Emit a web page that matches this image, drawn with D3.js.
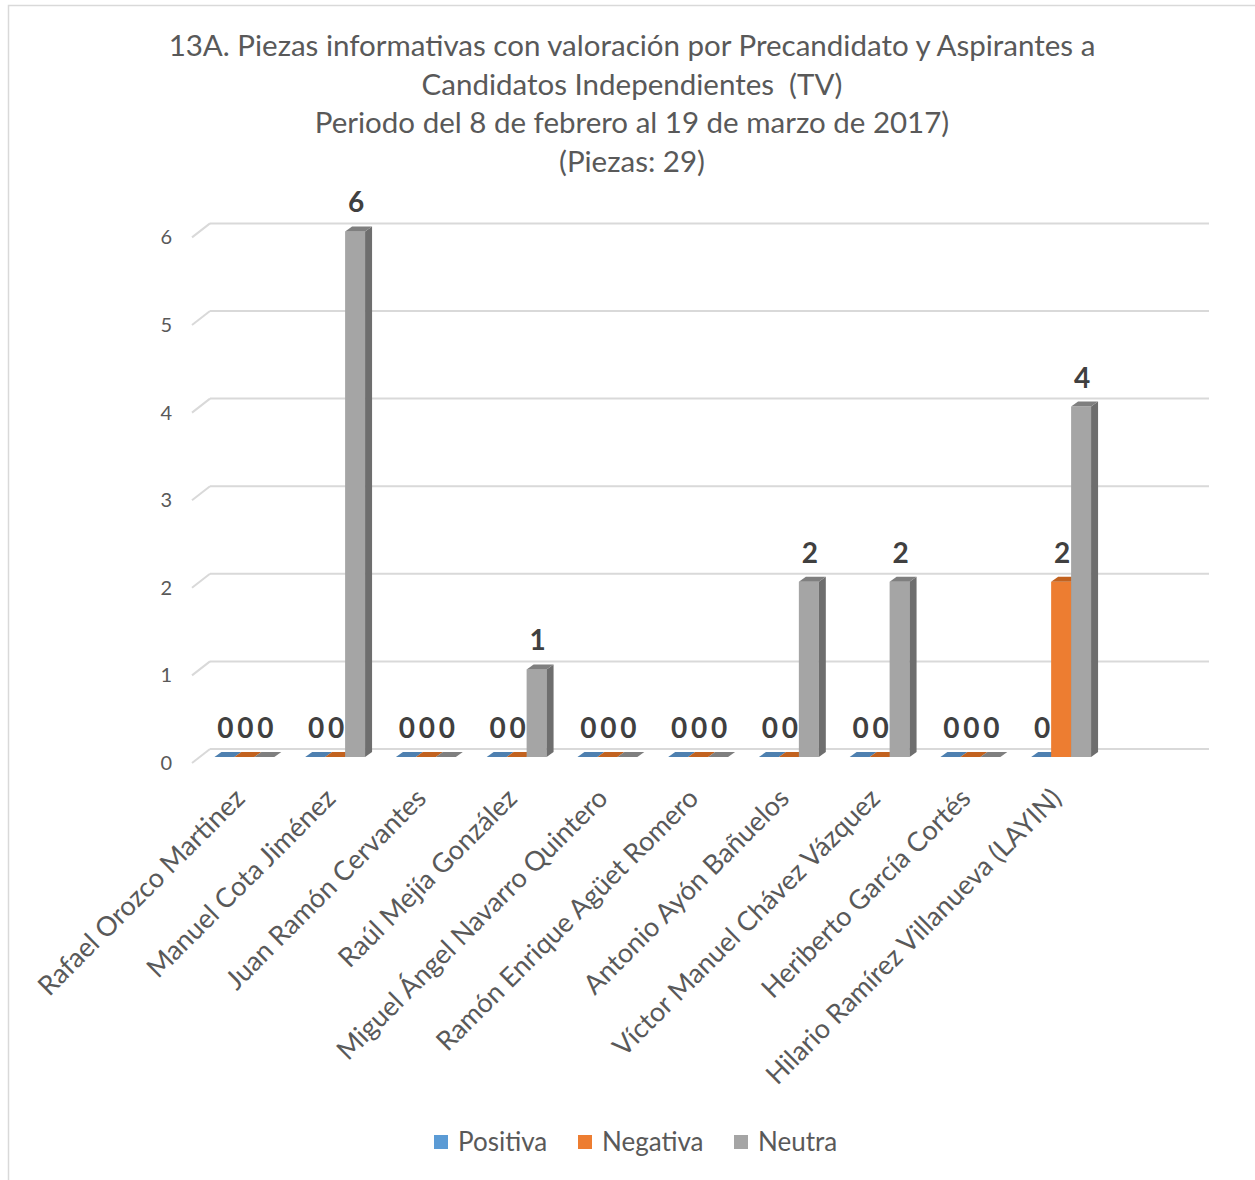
<!DOCTYPE html>
<html>
<head>
<meta charset="utf-8">
<script src="https://cdnjs.cloudflare.com/ajax/libs/d3/7.8.5/d3.min.js"></script>
<style>
  body { margin: 0; background: #fff; }
  text { font-family: Lato, "Open Sans", sans-serif; white-space: pre; }
</style>
</head>
<body>
<svg width="1255" height="1180"></svg>
<script>
var categories = ["Rafael Orozco Martinez", "Manuel Cota Jiménez", "Juan Ramón Cervantes",
    "Raúl Mejía González", "Miguel Ángel Navarro Quintero", "Ramón Enrique Agüet Romero",
    "Antonio Ayón Bañuelos", "Víctor Manuel Chávez Vázquez", "Heriberto García Cortés",
    "Hilario Ramírez Villanueva (LAYIN)"];
var positiva = [0, 0, 0, 0, 0, 0, 0, 0, 0, 0];
var negativa = [0, 0, 0, 0, 0, 0, 0, 0, 0, 2];
var neutra = [0, 6, 0, 1, 0, 0, 2, 2, 0, 4];
var seriesNames = ["Positiva", "Negativa", "Neutra"];
var yTicks = [0, 1, 2, 3, 4, 5, 6];
var titleLines = ["13A. Piezas informativas con valoración por Precandidato y Aspirantes a",
    "Candidatos Independientes  (TV)",
    "Periodo del 8 de febrero al 19 de marzo de 2017)",
    "(Piezas: 29)"];

var svg = d3.select("svg");
var series = [positiva, negativa, neutra];
var frontCol = ["#5B9BD5", "#ED7D31", "#A5A5A5"],
    sideCol = ["#41719C", "#AE5A21", "#6E6E6E"],
    topCol = ["#4E80B0", "#C2621F", "#7F7F7F"];

// depth offset of the bar box
var dx = 7, dy = -5;

// chart border
svg.append("rect")
    .attr("x", 8.5).attr("y", 5.5)
    .attr("width", 1300).attr("height", 1300)
    .attr("fill", "none").attr("stroke", "#d9d9d9").attr("stroke-width", 1.5);

// title
svg.append("g").selectAll("text")
    .data(titleLines)
    .enter().append("text")
    .attr("x", 632)
    .attr("y", function(d, i) { return 56 + i * 38.7; })
    .attr("text-anchor", "middle")
    .attr("fill", "#595959")
    .style("font-size", "29.5px")
    .text(function(d) { return d; });

var y = d3.scaleLinear().domain([0, 6]).range([757, 757 - 6 * 87.6]);

var x = d3.scaleBand()
    .domain(categories)
    .range([199, 1106.5])
    .paddingInner(0.34)
    .paddingOuter(0.17);

var xs = d3.scaleBand()
    .domain(seriesNames)
    .range([0, x.bandwidth()]);

// gridlines on the back wall, with the short slant on the side wall
var grid = svg.append("g");
yTicks.forEach(function(t) {
    grid.append("line")
        .attr("x1", 210).attr("x2", 1209)
        .attr("y1", y(t) - 8).attr("y2", y(t) - 8)
        .attr("stroke", "#d9d9d9").attr("stroke-width", 2);
    grid.append("line")
        .attr("x1", 192).attr("x2", 210)
        .attr("y1", y(t) + 6).attr("y2", y(t) - 8)
        .attr("stroke", "#d9d9d9").attr("stroke-width", 2);
    grid.append("text")
        .attr("x", 172).attr("y", y(t) + 6)
        .attr("dy", "0.35em")
        .attr("text-anchor", "end")
        .attr("fill", "#595959")
        .style("font-size", "20px")
        .text(t);
});

// bars
var bars = svg.append("g");
var labels = svg.append("g");
categories.forEach(function(c, i) {
    series.forEach(function(s, j) {
        var v = s[i];
        var x0 = x(c) + xs(seriesNames[j]),
            w = xs.bandwidth(),
            y0 = y(0),
            y1 = y(v);
        if (v > 0) {
            bars.append("rect")
                .attr("x", x0).attr("y", y1)
                .attr("width", w).attr("height", y0 - y1)
                .attr("fill", frontCol[j]);
            bars.append("path")
                .attr("d", "M" + (x0 + w) + "," + y1 + "L" + (x0 + w + dx) + "," + (y1 + dy) +
                    "L" + (x0 + w + dx) + "," + (y0 + dy) + "L" + (x0 + w) + "," + y0 + "Z")
                .attr("fill", sideCol[j]);
        }
        bars.append("path")
            .attr("d", "M" + x0 + "," + y1 + "L" + (x0 + dx) + "," + (y1 + dy) +
                "L" + (x0 + w + dx) + "," + (y1 + dy) + "L" + (x0 + w) + "," + y1 + "Z")
            .attr("fill", topCol[j]);
        labels.append("text")
            .attr("x", x0 + w / 2 + 1)
            .attr("y", y1 - 19)
            .attr("text-anchor", "middle")
            .attr("fill", "#404040")
            .style("font-size", "28px")
            .style("font-weight", "bold")
            .text(v);
    });
});

// category labels, rotated
svg.append("g").selectAll("text")
    .data(categories)
    .enter().append("text")
    .attr("transform", function(d) {
        return "translate(" + (x(d) + x.bandwidth() / 2 + 2) + ",800) rotate(-45)";
    })
    .attr("text-anchor", "end")
    .attr("fill", "#595959")
    .style("font-size", "27px")
    .text(function(d) { return d; });

// legend
var legendX = [434, 578, 734];
var legend = svg.append("g");
seriesNames.forEach(function(n, j) {
    legend.append("rect")
        .attr("x", legendX[j]).attr("y", 1135)
        .attr("width", 14).attr("height", 14)
        .attr("fill", frontCol[j]);
    legend.append("text")
        .attr("x", legendX[j] + 24).attr("y", 1151)
        .attr("fill", "#595959")
        .style("font-size", "26px")
        .text(n);
});
</script>
</body>
</html>
